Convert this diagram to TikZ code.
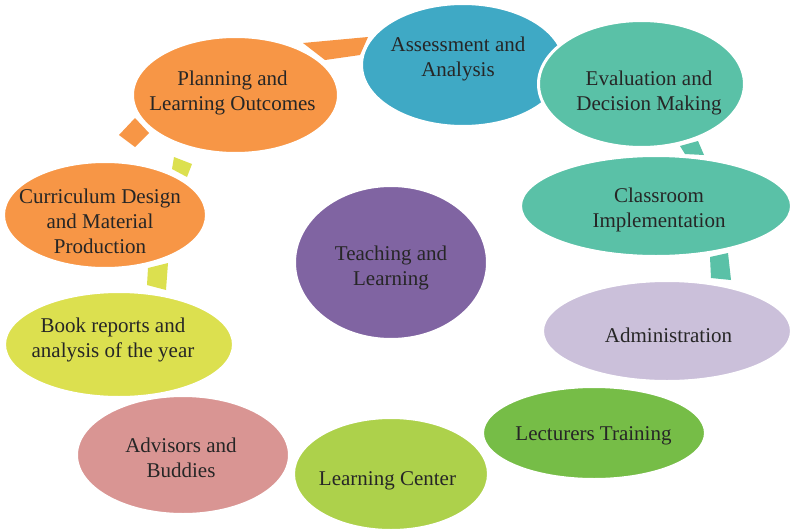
\documentclass[tikz,border=0pt]{standalone}
\usepackage{fontspec}
\setmainfont{Liberation Serif}
\usetikzlibrary{shapes.geometric}

\definecolor{ink}{HTML}{262626}
\definecolor{cOrange}{HTML}{F79646}
\definecolor{cBlue}{HTML}{3FA9C5}
\definecolor{cTeal}{HTML}{5AC1A7}
\definecolor{cLavender}{HTML}{CBC0DA}
\definecolor{cGreen}{HTML}{76BD47}
\definecolor{cLime}{HTML}{ADD14B}
\definecolor{cPink}{HTML}{D99593}
\definecolor{cYellow}{HTML}{DCE04F}
\definecolor{cPurple}{HTML}{8064A2}

\tikzset{
  bubble/.style={ellipse, draw=white, line width=3pt, inner sep=0pt},
  caption/.style={text=ink, align=center, inner sep=0pt,
    font=\fontsize{21}{25}\selectfont},
}

\begin{document}
\begin{tikzpicture}[x=1pt,y=-1pt]
\useasboundingbox (0,0) rectangle (790,530);
\fill[white] (0,0) rectangle (790,530);

% visible pieces of the cycle arrows, lying under the stages
\fill[cOrange] (303,43) -- (368,37) -- (360,55) -- (325,60) -- cycle;
\fill[cOrange] (135,118) -- (149,133) -- (135,147) -- (119,135) -- cycle;
\fill[cYellow] (174,157) -- (192,164) -- (187,177) -- (172,169) -- cycle;
\fill[cYellow] (148,268) -- (168,263) -- (166,290) -- (147,285) -- cycle;
\fill[cTeal] (680,146) -- (698,141) -- (704,155) -- (685,154) -- cycle;
\fill[cTeal] (710,257) -- (728,253) -- (731,280) -- (711,278) -- cycle;

% stages of the cycle
\node[bubble, fill=cOrange, minimum width=206pt, minimum height=117pt] (plan) at (235.5,95) {};
\node[caption] (plan-t) at (232.5,93) {Planning and\\Learning Outcomes};

\node[bubble, fill=cBlue, minimum width=203pt, minimum height=123pt] (assess) at (463,65) {};
\node[caption] (assess-t) at (458,58.5) {Assessment and\\Analysis};

\node[bubble, fill=cTeal, minimum width=206pt, minimum height=127pt] (eval) at (641.5,84) {};
\node[caption] (eval-t) at (649,93) {Evaluation and\\Decision Making};

\node[bubble, fill=cTeal, minimum width=271pt, minimum height=101pt] (class) at (656,206) {};
\node[caption] (class-t) at (659,210) {Classroom\\Implementation};

\node[bubble, fill=cLavender, minimum width=249pt, minimum height=101pt] (admin) at (667,331) {};
\node[caption] (admin-t) at (668.5,335.5) {Administration};

\node[bubble, fill=cGreen, minimum width=223pt, minimum height=93pt] (train) at (594,433) {};
\node[caption] (train-t) at (593.5,435.5) {Lecturers Training};

\node[bubble, fill=cLime, minimum width=195pt, minimum height=113pt] (center) at (391,474) {};
\node[caption] (center-t) at (387.5,480.5) {Learning Center};

\node[bubble, fill=cPink, minimum width=213pt, minimum height=119pt] (advise) at (183,455) {};
\node[caption] (advise-t) at (181,457.5) {Advisors and\\Buddies};

\node[bubble, fill=cYellow, minimum width=229pt, minimum height=106pt] (book) at (119,344.5) {};
\node[caption] (book-t) at (113,340) {Book reports and\\analysis of the year};

\node[bubble, fill=cOrange, minimum width=203pt, minimum height=107pt] (curr) at (105,215) {};
\node[caption] (curr-t) at (100,221) {Curriculum Design\\and Material\\Production};

% hub
\node[bubble, fill=cPurple, minimum width=193pt, minimum height=154pt] (teach) at (391,262.5) {};
\node[caption] (teach-t) at (391,267.5) {Teaching and\\Learning};
\end{tikzpicture}
\end{document}
